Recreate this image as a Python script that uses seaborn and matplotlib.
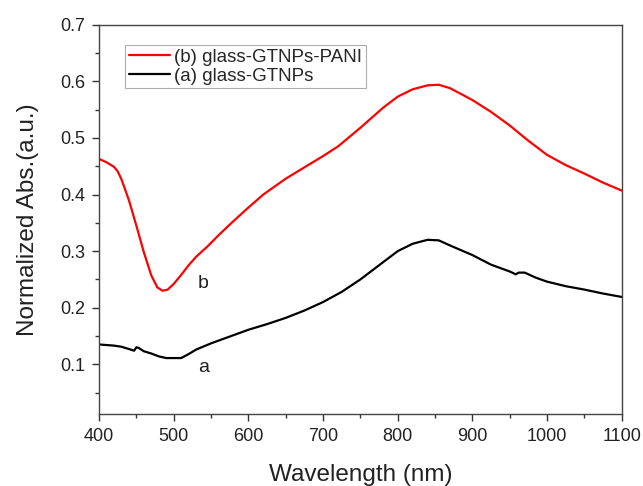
import numpy as np
import pandas as pd
import matplotlib
matplotlib.use("Agg")
import matplotlib.pyplot as plt
import seaborn as sns
from matplotlib.ticker import MultipleLocator

# red curve, glass-GTNPs-PANI
wl_b = [400, 410, 420, 425, 430, 440, 450, 460, 470, 478, 485, 492, 500, 510, 520, 530,
        545, 560, 580, 600, 620, 650, 680, 700, 720, 750, 780, 800, 820, 840, 855, 870,
        900, 925, 950, 975, 1000, 1025, 1050, 1075, 1100]
abs_b = [0.463, 0.457, 0.449, 0.441, 0.427, 0.39, 0.345, 0.298, 0.257, 0.236, 0.23, 0.232,
         0.242, 0.258, 0.275, 0.29, 0.308, 0.328, 0.353, 0.377, 0.4, 0.428, 0.452, 0.468,
         0.485, 0.518, 0.553, 0.573, 0.586, 0.593, 0.594, 0.588, 0.567, 0.546, 0.522,
         0.495, 0.47, 0.452, 0.437, 0.421, 0.407]

# black curve, glass-GTNPs
wl_a = [400, 410, 420, 430, 440, 447, 450, 453, 460, 470, 480, 490, 500, 510, 520, 530,
        550, 575, 600, 625, 650, 675, 700, 725, 750, 775, 800, 820, 840, 855, 870, 900,
        925, 950, 958, 962, 970, 985, 1000, 1025, 1050, 1075, 1100]
abs_a = [0.135, 0.134, 0.133, 0.131, 0.127, 0.124, 0.13, 0.129, 0.123, 0.119, 0.114, 0.111,
         0.111, 0.111, 0.118, 0.126, 0.137, 0.149, 0.161, 0.171, 0.182, 0.195, 0.21, 0.228,
         0.25, 0.275, 0.3, 0.313, 0.32, 0.319, 0.31, 0.293, 0.276, 0.264, 0.259, 0.262,
         0.262, 0.253, 0.246, 0.238, 0.232, 0.225, 0.219]

lab_b = "(b) glass-GTNPs-PANI"
lab_a = "(a) glass-GTNPs"

df = pd.concat([
    pd.DataFrame({"wl": wl_b, "val": abs_b, "sample": lab_b}),
    pd.DataFrame({"wl": wl_a, "val": abs_a, "sample": lab_a}),
])

sns.set_style("white")
plt.rcParams["font.family"] = ["Liberation Sans", "DejaVu Sans"]

fig = plt.figure(figsize=(6.43, 4.86), dpi=100)
ax = fig.add_axes([0.154, 0.148, 0.813, 0.801])

sns.lineplot(df, x="wl", y="val", hue="sample", hue_order=[lab_b, lab_a],
             palette={lab_b: "#ff0000", lab_a: "#000000"}, lw=1.6, ax=ax, sort=False)

ax.set_xlim(400, 1100)
ax.set_ylim(0.012, 0.7)
ax.xaxis.set_major_locator(MultipleLocator(100))
ax.xaxis.set_minor_locator(MultipleLocator(50))
ax.yaxis.set_major_locator(MultipleLocator(0.1))
ax.yaxis.set_minor_locator(MultipleLocator(0.05))
ax.set_yticks([0.1, 0.2, 0.3, 0.4, 0.5, 0.6, 0.7])
ax.tick_params(which="major", direction="out", length=5, width=1, labelsize=13,
               bottom=True, left=True, color="#333333", pad=5, labelcolor="#222222")
ax.tick_params(which="minor", direction="out", length=3, width=1,
               bottom=True, left=True, color="#333333")
for s in ax.spines.values():
    s.set_color("#444444")
    s.set_linewidth(1)

ax.set_xlabel("Wavelength (nm)", fontsize=17.5, labelpad=13.5, color="#222222")
ax.set_ylabel("Normalized Abs.(a.u.)", fontsize=17.5, labelpad=15, color="#222222")

ax.text(532, 0.243, "b", fontsize=14, ha="left", va="center", color="#222222")
ax.text(533, 0.095, "a", fontsize=14, ha="left", va="center", color="#222222")

leg = ax.legend(loc="upper left", bbox_to_anchor=(0.05, 0.949), fontsize=13.5,
                frameon=True, fancybox=False, borderaxespad=0, handlelength=2.2,
                handletextpad=0.2, borderpad=0.2, labelspacing=0.1)
leg.get_frame().set_edgecolor("#999999")
leg.get_frame().set_linewidth(0.8)
leg.set_title(None)

fig.savefig("out.png", dpi=100)
